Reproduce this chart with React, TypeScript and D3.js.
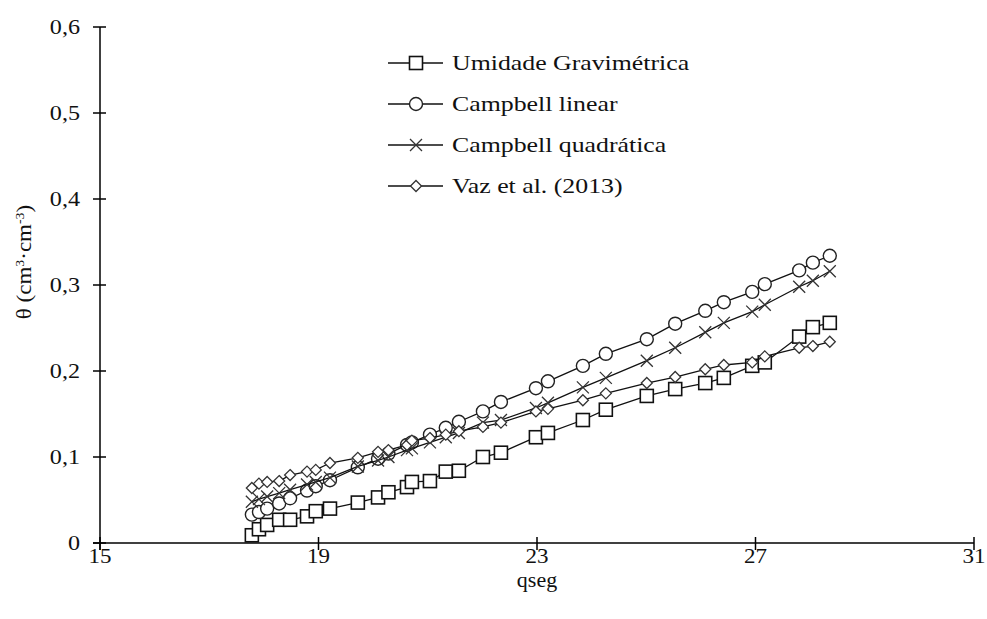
import * as d3 from "d3";
import React from "react";

const qseg = [
  17.78, 17.91, 18.06, 18.28, 18.48, 18.79, 18.95, 19.21, 19.72, 20.09, 20.28,
  20.62, 20.71, 21.04, 21.33, 21.57, 22.01, 22.34, 22.98, 23.2, 23.84, 24.26,
  25.01, 25.53, 26.08, 26.42, 26.94, 27.17, 27.8, 28.05, 28.36,
];

const umidadeGravimetrica = [
  0.009, 0.016, 0.021, 0.027, 0.027, 0.031, 0.037, 0.04, 0.047, 0.053, 0.059,
  0.065, 0.071, 0.072, 0.083, 0.084, 0.1, 0.105, 0.123, 0.128, 0.143, 0.155,
  0.171, 0.179, 0.186, 0.192, 0.206, 0.21, 0.24, 0.251, 0.256,
];

const campbellLinear = [
  0.033, 0.036, 0.04, 0.046, 0.052, 0.061, 0.066, 0.073, 0.088, 0.098, 0.104,
  0.114, 0.117, 0.126, 0.134, 0.141, 0.153, 0.164, 0.18, 0.188, 0.206, 0.22,
  0.237, 0.255, 0.27, 0.28, 0.292, 0.301, 0.317, 0.326, 0.334,
];

const campbellQuadratica = [
  0.048, 0.051, 0.054, 0.058, 0.062, 0.068, 0.071, 0.076, 0.089, 0.096, 0.1,
  0.108, 0.11, 0.117, 0.123, 0.128, 0.14, 0.143, 0.157, 0.163, 0.181, 0.192,
  0.212, 0.227, 0.245, 0.256, 0.269, 0.277, 0.298, 0.305, 0.316,
];

const vazEtAl = [
  0.064, 0.069, 0.071, 0.072, 0.079, 0.083, 0.085, 0.093, 0.099, 0.106, 0.108,
  0.114, 0.119, 0.122, 0.126, 0.13, 0.135, 0.14, 0.153, 0.156, 0.166, 0.174,
  0.186, 0.193, 0.202, 0.207, 0.21, 0.217, 0.227, 0.229, 0.234,
];

const seriesNames = [
  "Umidade Gravimétrica",
  "Campbell linear",
  "Campbell quadrática",
  "Vaz et al. (2013)",
];
const seriesMarkers = ["square", "circle", "cross", "diamond"];
const seriesValues = [umidadeGravimetrica, campbellLinear, campbellQuadratica, vazEtAl];

const xTicks = [15, 19, 23, 27, 31];
const yTicks = [0, 0.1, 0.2, 0.3, 0.4, 0.5, 0.6];

const width = 987;
const height = 619;
const FONT = "'Liberation Serif', 'Times New Roman', serif";

// the source text is drawn wider than a normal Times face
function WideText({ x, y, sx = 1.2, size = 21, anchor = "start", children }) {
  return (
    <text
      transform={`translate(${x},${y}) scale(${sx},1)`}
      textAnchor={anchor}
      fontSize={size}
      fill="#111"
    >
      {children}
    </text>
  );
}

function Marker({ type, x, y }) {
  if (type === "square") {
    return (
      <rect x={x - 6.5} y={y - 6.5} width={13} height={13} fill="#fff" stroke="#111" strokeWidth={1.6} />
    );
  }
  if (type === "circle") {
    return <circle cx={x} cy={y} r={6.5} fill="#fff" stroke="#222" strokeWidth={1.4} />;
  }
  if (type === "cross") {
    const s = 6;
    return (
      <path
        d={`M${x - s},${y - s}L${x + s},${y + s}M${x - s},${y + s}L${x + s},${y - s}`}
        stroke="#333"
        strokeWidth={1.3}
        fill="none"
      />
    );
  }
  const r = 5.5;
  return (
    <path
      d={`M${x},${y - r}L${x + r},${y}L${x},${y + r}L${x - r},${y}Z`}
      fill="#fff"
      stroke="#333"
      strokeWidth={1.3}
    />
  );
}

export default function App() {
  const x = d3.scaleLinear().domain([15, 31]).range([100, 974]);
  const y = d3.scaleLinear().domain([0, 0.6]).range([543, 27]);
  const fmt = (v) => (v === 0 ? "0" : d3.format(".1f")(v).replace(".", ","));

  const line = d3
    .line<number>()
    .x((_, i) => x(qseg[i]))
    .y((d) => y(d));

  return (
    <svg
      width={width}
      height={height}
      style={{ position: "absolute", left: 0, top: 0, background: "#fff" }}
      fontFamily={FONT}
    >
      {/* axes */}
      <line x1={x(15) - 7} x2={x(31)} y1={y(0)} y2={y(0)} stroke="#000" strokeWidth={1.5} />
      <line x1={x(15)} x2={x(15)} y1={y(0.6)} y2={y(0) + 7} stroke="#000" strokeWidth={1.5} />
      {yTicks.map((t) => (
        <g key={`y${t}`}>
          <line x1={x(15) - 7} x2={x(15) + 6} y1={y(t)} y2={y(t)} stroke="#000" strokeWidth={1.5} />
          <WideText x={80} y={y(t) + 7} anchor="end" sx={1.15}>
            {fmt(t)}
          </WideText>
        </g>
      ))}
      {xTicks.map((t) => (
        <g key={`x${t}`}>
          <line x1={x(t)} x2={x(t)} y1={y(0) - 6} y2={y(0) + 7} stroke="#000" strokeWidth={1.5} />
          <WideText x={x(t)} y={563} anchor="middle" sx={1.15} size={20}>
            {t}
          </WideText>
        </g>
      ))}
      <WideText x={537} y={587} anchor="middle" sx={1.1} size={20}>
        qseg
      </WideText>
      <text transform="translate(31,262) rotate(-90) scale(1.15,1)" textAnchor="middle" fontSize={20} fill="#111">
        θ (cm
        <tspan fontSize={12} dy={-7}>3</tspan>
        <tspan dy={7}>·cm</tspan>
        <tspan fontSize={12} dy={-7}>-3</tspan>
        <tspan dy={7}>)</tspan>
      </text>

      {/* series */}
      {seriesValues.map((vals, si) => (
        <g key={seriesNames[si]}>
          <path d={line(vals) || ""} fill="none" stroke="#111" strokeWidth={1.3} />
          {vals.map((v, i) => (
            <Marker key={i} type={seriesMarkers[si]} x={x(qseg[i])} y={y(v)} />
          ))}
        </g>
      ))}

      {/* legend */}
      {seriesNames.map((name, i) => {
        const ly = 63 + i * 41;
        return (
          <g key={`leg${name}`}>
            <line x1={388} x2={443} y1={ly} y2={ly} stroke="#111" strokeWidth={1.3} />
            <Marker type={seriesMarkers[i]} x={416} y={ly} />
            <WideText x={452} y={ly + 7} sx={1.23}>
              {name}
            </WideText>
          </g>
        );
      })}
    </svg>
  );
}
